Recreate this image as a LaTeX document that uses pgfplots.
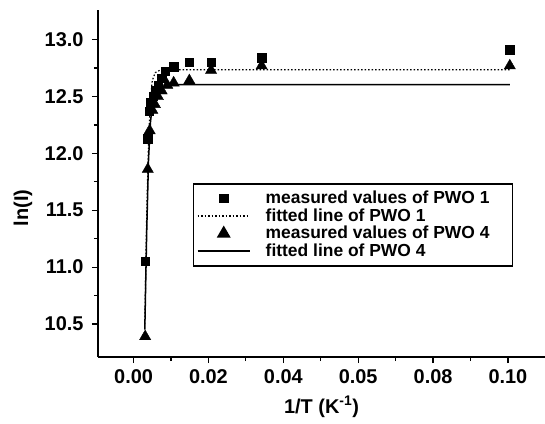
\documentclass[border=0pt]{standalone}
\usepackage{fontspec}
\setmainfont{Liberation Sans}
\usepackage{pgfplots}
\pgfplotsset{compat=1.18}

% measured ln(I) against 1/T
\pgfplotstableread{
x       y
0.0031  11.05
0.0038  12.13
0.0042  12.37
0.0046  12.45
0.0052  12.50
0.0058  12.55
0.0065  12.60
0.0075  12.66
0.0085  12.72
0.0107  12.76
0.0149  12.80
0.0207  12.80
0.0342  12.84
0.1005  12.91
}\pwoone
\pgfplotstableread{
x       y
0.0031  10.39
0.0038  11.86
0.0043  12.20
0.0050  12.38
0.0057  12.43
0.0065  12.50
0.0075  12.55
0.0090  12.60
0.0107  12.62
0.0149  12.64
0.0207  12.73
0.0342  12.77
0.1005  12.77
}\pwofour
% fitted curves
\pgfplotstableread{
x       y
0.0030  10.50
0.0035  11.45
0.0040  12.10
0.0045  12.48
0.0050  12.64
0.0058  12.71
0.0070  12.73
0.0100  12.735
0.1005  12.735
}\fitone
\pgfplotstableread{
x       y
0.0030  10.45
0.0035  11.30
0.0040  11.95
0.0045  12.27
0.0050  12.42
0.0060  12.52
0.0070  12.56
0.0090  12.595
0.0120  12.605
0.1005  12.605
}\fitfour

\newcommand{\entry}[1]{\makebox[243bp][l]{#1}}

\begin{document}
\begin{tikzpicture}
\begin{axis}[
  at={(0,0)}, anchor=south west,
  width=447bp, height=347bp, scale only axis,
  xmin=-0.0095, xmax=0.1099, ymin=10.21, ymax=13.26,
  axis lines=left,
  axis line style={-, line width=1.5bp},
  tick align=outside,
  tick style={line width=1.2bp, black},
  major tick length=6bp, minor tick length=4bp,
  minor tick num=1,
  xtick={0,0.02,0.04,0.06,0.08,0.10},
  xticklabels={0.00,0.02,0.04,0.05,0.08,0.10},
  ytick={10.5,11.0,11.5,12.0,12.5,13.0},
  y tick label style={/pgf/number format/fixed, /pgf/number format/fixed zerofill,
    /pgf/number format/precision=1},
  /pgf/number format/assume math mode=true,
  ticklabel style={font=\fontsize{20}{24}\selectfont\bfseries},
  yticklabel style={xshift=-5bp},
  xticklabel style={yshift=-3bp},
  xlabel={1/T (K\textsuperscript{-1})},
  ylabel={ln(I)},
  every axis x label/.style={at={(axis description cs:0.5,0)}, anchor=center,
    yshift=-50bp, font=\fontsize{20}{24}\selectfont\bfseries},
  every axis y label/.style={at={([xshift=-75bp]axis description cs:0,0.43)},
    anchor=center, rotate=90, font=\fontsize{20}{24}\selectfont\bfseries},
  legend style={at={(axis description cs:0.2125,0.5014)}, anchor=north west,
    draw=black, line width=1.5bp, font=\fontsize{17.5}{18}\selectfont\bfseries,
    row sep=0bp, inner xsep=2bp, inner ysep=6bp, cells={anchor=west},
    nodes={text height=12.5bp, text depth=2bp, inner ysep=1.5bp}},
  legend image code/.code={\draw[mark repeat=2, mark phase=2, #1]
    plot coordinates {(0bp,0bp) (26bp,0bp) (52bp,0bp)};
    \path[draw=none, fill=none] (-2bp,0bp) -- (66bp,0bp);},
]
\addplot[only marks, mark=square*, mark size=4.2bp, black] table {\pwoone};
\addlegendentry{\entry{measured values of PWO 1}}
\addplot[black, line width=1.2bp, dash pattern=on 1.5bp off 2bp, no marks] table {\fitone};
\addlegendentry{\entry{fitted line of PWO 1}}
\addplot[only marks, mark=triangle*, mark size=6.5bp, black] table {\pwofour};
\addlegendentry{\entry{measured values of PWO 4}}
\addplot[black, line width=1.5bp, solid, no marks] table {\fitfour};
\addlegendentry{\entry{fitted line of PWO 4}}
\end{axis}
\pgfresetboundingbox
\path (-98bp,-67bp) rectangle (447bp,357bp);
\end{tikzpicture}
\end{document}
